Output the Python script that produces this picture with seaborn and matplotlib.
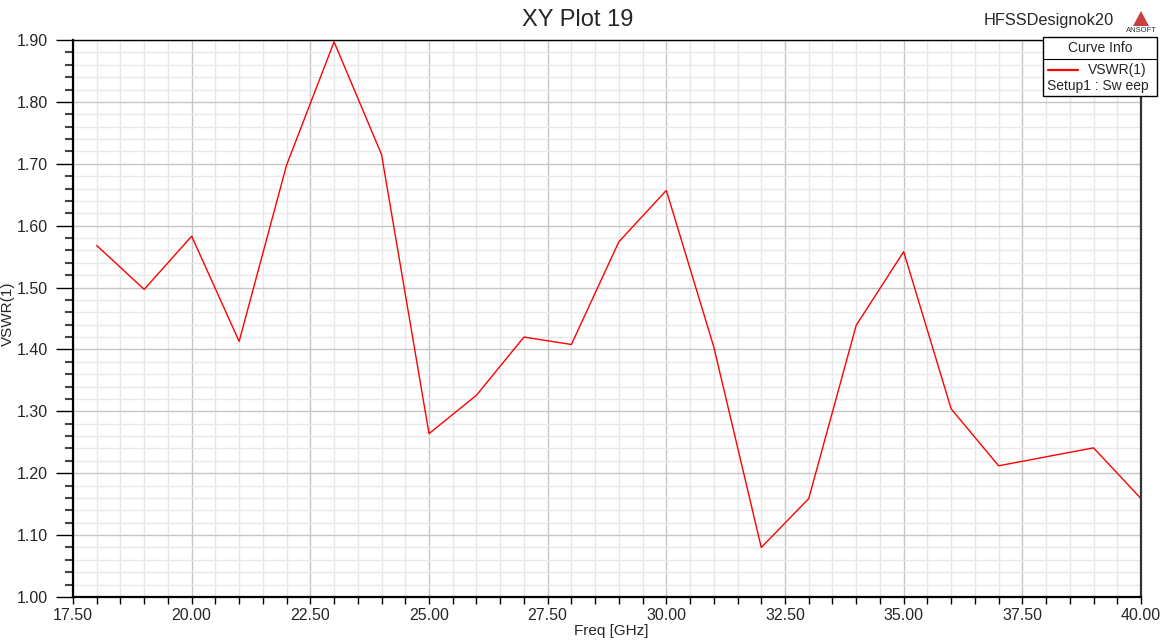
import matplotlib
matplotlib.use("Agg")
import matplotlib.pyplot as plt
from matplotlib.ticker import MultipleLocator, FormatStrFormatter
from matplotlib.patches import Rectangle, Polygon
from matplotlib.lines import Line2D
import seaborn as sns
import pandas as pd

freq = [18, 19, 20, 21, 22, 23, 24, 25, 26, 27, 28, 29,
        30, 31, 32, 33, 34, 35, 36, 37, 39, 40]
vswr = [1.568, 1.497, 1.583, 1.413, 1.698, 1.897, 1.715, 1.264, 1.326, 1.420, 1.408, 1.574,
        1.657, 1.404, 1.080, 1.159, 1.439, 1.558, 1.304, 1.212, 1.241, 1.159]

title = "XY Plot 19"
design = "HFSSDesignok20"
curve_label = "VSWR(1)"
curve_setup = "Setup1 : Sw eep"

df = pd.DataFrame({"Freq [GHz]": freq, "VSWR(1)": vswr})

sns.set_style("white")
plt.rcParams["font.family"] = ["Liberation Sans", "DejaVu Sans"]

W, H = 1170, 643
fig = plt.figure(figsize=(W / 100, H / 100), dpi=100)
ax = fig.add_axes([73 / W, 1 - 597 / H, (1141 - 73) / W, (597 - 40) / H])

def px(x, y):
    return (x / W, 1 - y / H)

sns.lineplot(data=df, x="Freq [GHz]", y="VSWR(1)", ax=ax, color="#ff0000", linewidth=1.0)

ax.set_xlim(17.5, 40)
ax.set_ylim(1.0, 1.9)
ax.xaxis.set_major_locator(MultipleLocator(2.5))
ax.xaxis.set_minor_locator(MultipleLocator(0.5))
ax.yaxis.set_major_locator(MultipleLocator(0.1))
ax.yaxis.set_minor_locator(MultipleLocator(0.02))
ax.xaxis.set_major_formatter(FormatStrFormatter("%.2f"))
ax.yaxis.set_major_formatter(FormatStrFormatter("%.2f"))

ax.grid(which="minor", color="#e8e8e8", linewidth=1.0)
ax.grid(which="major", color="#c6c6c6", linewidth=1.0)
ax.set_axisbelow(True)

ax.tick_params(axis="y", which="major", direction="out", length=12, width=1, color="black",
               labelsize=11.5, pad=6, left=True)
ax.tick_params(axis="y", which="minor", direction="out", length=6, width=1.5, color="#444444", left=True)
ax.tick_params(axis="x", which="major", direction="out", length=5, width=1, color="black",
               labelsize=11.5, pad=3, bottom=True)
ax.tick_params(axis="x", which="minor", direction="out", length=5, width=1, color="black", bottom=True)

for side in ["left", "bottom"]:
    ax.spines[side].set_linewidth(1.6)
    ax.spines[side].set_color("black")
ax.spines["top"].set_linewidth(1.0)
ax.spines["top"].set_color("black")
ax.spines["right"].set_linewidth(1.6)
ax.spines["right"].set_color("#333333")

ax.set_xlabel("Freq [GHz]", fontsize=11)
ax.set_ylabel("VSWR(1)", fontsize=11)
ax.xaxis.set_label_coords(538 / 1068, -(631 - 597) / 557)
ax.yaxis.set_label_coords(-(73 - 8) / 1068, (597 - 314) / 557)
ax.xaxis.label.set_va("center")
ax.yaxis.label.set_va("center")

fig.text(*px(578, 20), title, fontsize=17, ha="center", va="center")
fig.text(*px(1049, 20), design, fontsize=11.8, ha="center", va="center")

# ANSOFT logo
tri = Polygon([px(1133, 26), px(1149, 26), px(1141, 11)], closed=True,
              transform=fig.transFigure, facecolor="#c84040", edgecolor="none")
fig.patches.append(tri)
fig.text(*px(1141, 30), "ANSOFT", fontsize=5.5, ha="center", va="center", color="#333333")

# Curve info box
x0, y0, x1, y1 = 1043, 37, 1157, 96
box = Rectangle(px(x0, y1), (x1 - x0) / W, (y1 - y0) / H, transform=fig.transFigure,
                facecolor="white", edgecolor="black", linewidth=1.0)
fig.patches.append(box)
fig.lines.append(Line2D([x0 / W, x1 / W], [1 - 59 / H] * 2, transform=fig.transFigure,
                        color="black", linewidth=0.8))
fig.text(*px(1100, 48), "Curve Info", fontsize=10, ha="center", va="center")
fig.lines.append(Line2D([1048 / W, 1078 / W], [1 - 70 / H] * 2, transform=fig.transFigure,
                        color="#ff0000", linewidth=1.6))
fig.text(*px(1147, 70), curve_label, fontsize=10, ha="right", va="center")
fig.text(*px(1047, 86), curve_setup, fontsize=10, ha="left", va="center")

fig.savefig("out.png", dpi=100)
